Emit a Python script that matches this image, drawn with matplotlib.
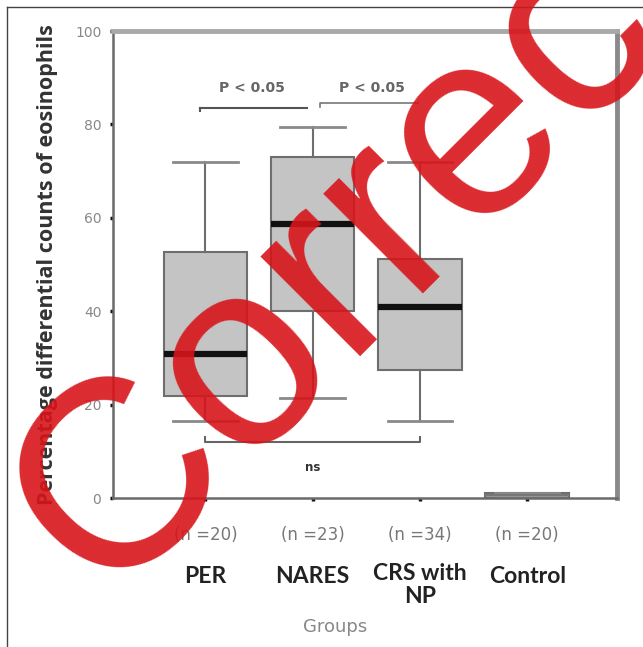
import numpy as np
import matplotlib.pyplot as plt
from matplotlib.lines import Line2D

# data
groups = ["PER", "NARES", "CRS with\nNP", "Control"]
counts = ["(n =20)", "(n =23)", "(n =34)", "(n =20)"]
whislo = [16.5, 21.5, 16.5, 0.0]
q1 = [21.8, 40.0, 27.5, 0.0]
med = [30.8, 58.7, 41.0, 0.6]
q3 = [52.8, 73.0, 51.3, 1.2]
whishi = [72.0, 79.5, 72.0, 1.2]

plt.rcParams['font.family'] = ['Lato', 'DejaVu Sans']

fig = plt.figure(figsize=(6.43, 6.47), dpi=100)
ax = fig.add_axes([0.176, 0.230, 0.784, 0.722])

stats = []
for i in range(len(groups)):
    stats.append(dict(whislo=whislo[i], q1=q1[i], med=med[i], q3=q3[i],
                      whishi=whishi[i], fliers=[]))

pos = np.arange(1, len(groups) + 1)
bp = ax.bxp(stats, positions=pos, widths=0.78, capwidths=0.6, patch_artist=True,
            boxprops=dict(facecolor='#c4c4c4', edgecolor='#6e6e6e', linewidth=1.5),
            whiskerprops=dict(color='#6e6e6e', linewidth=1.5),
            capprops=dict(color='#8a8a8a', linewidth=2),
            medianprops=dict(color='#111111', linewidth=4.5),
            showfliers=False)
# control box is almost flat
bp['medians'][3].set_linewidth(1.5)
bp['medians'][3].set_color('#777777')
bp['boxes'][3].set_facecolor('#999999')

ax.set_ylim(0, 100)
ax.set_xlim(0.14, 4.84)
ax.set_yticks([0, 20, 40, 60, 80, 100])
ax.set_xticks(pos)
ax.set_xticklabels([])
ax.tick_params(axis='both', length=2.5, width=2.5, color='#111111',
               labelsize=10, labelcolor='#888888', pad=6)
for lab in ax.get_yticklabels():
    lab.set_family('DejaVu Sans')

ax.spines['top'].set_color('#a8a8a8')
ax.spines['top'].set_linewidth(3.5)
ax.spines['right'].set_color('#8a8a8a')
ax.spines['right'].set_linewidth(3.5)
for s in ['left', 'bottom']:
    ax.spines[s].set_color('#6a6a6a')
    ax.spines[s].set_linewidth(1.8)

# significance brackets
ax.plot([0.95, 1.95], [83.6, 83.6], color='#555555', lw=1.5)
ax.plot([0.95, 0.95], [83.6, 82.8], color='#555555', lw=1.5)
ax.plot([2.07, 2.07, 2.98], [83.8, 84.6, 84.6], color='#777777', lw=1.2)
ax.text(1.43, 87.8, "P < 0.05", ha='center', va='center', fontsize=10,
        fontweight='bold', color='#666666', family='DejaVu Sans')
ax.text(2.55, 87.8, "P < 0.05", ha='center', va='center', fontsize=10,
        fontweight='bold', color='#666666', family='DejaVu Sans')
ax.plot([1.0, 1.0, 3.0, 3.0], [13.0, 12.0, 12.0, 13.0], color='#666666', lw=1.5)
ax.text(2.0, 6.6, "ns", ha='center', va='center', fontsize=8.5,
        fontweight='bold', color='#333333', family='DejaVu Sans')

# x labels
trans = ax.get_xaxis_transform()
for x, n, g in zip(pos, counts, groups):
    ax.text(x, -0.079, n, transform=trans, ha='center', va='center',
            fontsize=12, color='#777777', family='DejaVu Sans')
    if '\n' in g:
        ax.text(x, -0.139, g, transform=trans, ha='center', va='top',
                fontsize=16.5, fontweight='bold', color='#222222', linespacing=1.1)
    else:
        ax.text(x, -0.167, g, transform=trans, ha='center', va='center',
                fontsize=16.5, fontweight='bold', color='#222222')
ax.text(0.44, -0.276, "Groups", transform=ax.transAxes, ha='center',
        va='center', fontsize=13, color='#888888', family='DejaVu Sans')

ax.set_ylabel("Percentage differential counts of eosinophils", fontsize=15.5,
              fontweight='bold', color='#333333', labelpad=12,
              family='Open Sans')

# figure border (top and left)
fig.add_artist(Line2D([7 / 643, 7 / 643], [0, 1 - 7 / 647], color='#444444',
                      lw=1, transform=fig.transFigure))
fig.add_artist(Line2D([7 / 643, 1], [1 - 7 / 647, 1 - 7 / 647], color='#444444',
                      lw=1, transform=fig.transFigure))

# watermark
fig.text(0.160, 0.0726, "Correction", rotation=45, rotation_mode='anchor',
         ha='left', va='baseline', fontsize=192, color='#d7141a', alpha=0.9,
         family='Liberation Sans', zorder=10)

fig.savefig("out.png", dpi=100)
